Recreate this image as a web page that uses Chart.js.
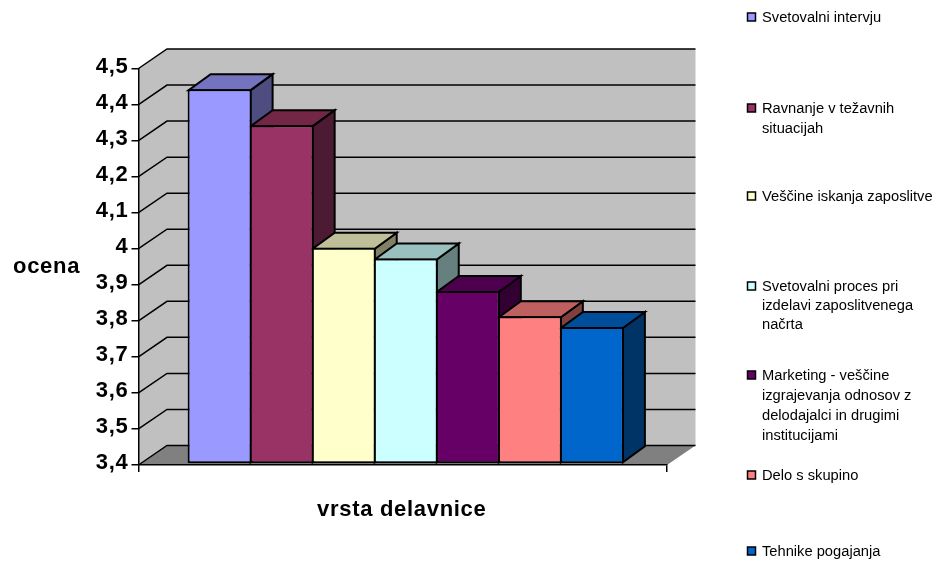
<!DOCTYPE html>
<html>
<head>
<meta charset="utf-8">
<title>Ocena delavnic</title>
<script src="https://cdn.jsdelivr.net/npm/chart.js@4"></script>
<style>
  html, body { margin: 0; padding: 0; background: #fff; }
  canvas { display: block; }
</style>
</head>
<body>
<canvas id="myChart" width="939" height="563"></canvas>
<script>
var seriesNames = [
  ["Svetovalni intervju"],
  ["Ravnanje v težavnih", "situacijah"],
  ["Veščine iskanja zaposlitve"],
  ["Svetovalni proces pri", "izdelavi zaposlitvenega", "načrta"],
  ["Marketing - veščine", "izgrajevanja odnosov z", "delodajalci in drugimi", "institucijami"],
  ["Delo s skupino"],
  ["Tehnike pogajanja"]
];
var seriesValues = [4.44, 4.34, 4.0, 3.97, 3.88, 3.81, 3.78];
var seriesColors = ["#9999FF", "#993366", "#FFFFCC", "#CCFFFF", "#660066", "#FF8080", "#0066CC"];
var topColors = ["#7373BF", "#732645", "#BFBF99", "#99BFBF", "#4D004D", "#BF6060", "#004D99"];
var sideColors = ["#4D4D80", "#4D1A33", "#808066", "#668080", "#330033", "#804040", "#003366"];
var yTicks = [3.4, 3.5, 3.6, 3.7, 3.8, 3.9, 4, 4.1, 4.2, 4.3, 4.4, 4.5];
var yTitle = "ocena";
var xTitle = "vrsta delavnice";

var FONT = '"Liberation Sans", Arial, sans-serif';
var legendTop = [18, 109, 197, 287, 376, 476, 552];
var legendGap = [0, 19.5, 0, 19, 20, 0, 0];

// depth of the box and of each bar
var WALL_DX = 28.5, WALL_DY = -19.5;
var BAR_DX = 22, BAR_DY = -16;
var BAR_SHIFT_X = 3, BAR_SHIFT_Y = -1;

function poly(ctx, pts, fill) {
  ctx.beginPath();
  ctx.moveTo(pts[0][0], pts[0][1]);
  for (var i = 1; i < pts.length; i++) ctx.lineTo(pts[i][0], pts[i][1]);
  ctx.closePath();
  ctx.fillStyle = fill;
  ctx.fill();
}

var box3d = {
  id: "box3d",
  beforeDraw: function (chart) {
    var ctx = chart.ctx, area = chart.chartArea, y = chart.scales.y;
    var l = area.left, r = area.right, t = area.top, b = area.bottom;
    var dx = WALL_DX, dy = WALL_DY;

    // bold labels are spaced a little wider, also picked up by the tick labels
    ctx.letterSpacing = "0.7px";

    // walls and floor
    ctx.save();
    poly(ctx, [[l, t], [l + dx, t + dy], [r + dx, t + dy], [r + dx, b + dy], [l + dx, b + dy], [l, b]], "#C0C0C0");
    poly(ctx, [[l, b], [l + dx, b + dy], [r + dx, b + dy], [r, b]], "#808080");

    // gridlines run up the side wall then along the back
    ctx.strokeStyle = "#000";
    ctx.lineWidth = 1.5;
    yTicks.forEach(function (v) {
      var p = y.getPixelForValue(v);
      ctx.beginPath();
      ctx.moveTo(l, p);
      ctx.lineTo(l + dx, p + dy);
      ctx.lineTo(r + dx, p + dy);
      ctx.stroke();
    });
    ctx.restore();
  },
  beforeDatasetsDraw: function (chart) {
    var ctx = chart.ctx;

    // top and side faces of the bars, the library paints the fronts after this
    ctx.save();
    ctx.strokeStyle = "#000";
    ctx.lineWidth = 2;
    ctx.lineJoin = "miter";
    seriesValues.forEach(function (v, i) {
      var el = chart.getDatasetMeta(i).data[0];
      var x1 = el.x - el.width / 2 + 1 + BAR_SHIFT_X;
      var x2 = el.x + el.width / 2 - 1 + BAR_SHIFT_X;
      var yT = el.y + 1 + BAR_SHIFT_Y;
      var yB = el.base - 1 + BAR_SHIFT_Y;
      var topFace = [[x1, yT], [x2, yT], [x2 + BAR_DX, yT + BAR_DY], [x1 + BAR_DX, yT + BAR_DY]];
      var sideFace = [[x2, yT], [x2 + BAR_DX, yT + BAR_DY], [x2 + BAR_DX, yB + BAR_DY], [x2, yB]];
      poly(ctx, sideFace, sideColors[i]);
      ctx.stroke();
      poly(ctx, topFace, topColors[i]);
      ctx.stroke();
    });
    ctx.restore();

    ctx.save();
    ctx.translate(BAR_SHIFT_X, BAR_SHIFT_Y);
  },
  afterDatasetsDraw: function (chart) {
    var ctx = chart.ctx;
    ctx.restore();

    // axis titles
    ctx.save();
    ctx.fillStyle = "#000";
    ctx.textBaseline = "alphabetic";
    ctx.font = "bold 22px " + FONT;
    ctx.textAlign = "left";
    ctx.fillText(yTitle, 13, 273);
    ctx.fillText(xTitle, 317, 516);

    // legend
    ctx.letterSpacing = "0px";
    ctx.textBaseline = "middle";
    ctx.font = "14.7px " + FONT;
    seriesNames.forEach(function (lines, i) {
      var top = legendTop[i];
      ctx.fillStyle = seriesColors[i];
      ctx.fillRect(747.5, top - 5, 8, 8);
      ctx.strokeStyle = "#000";
      ctx.lineWidth = 1.5;
      ctx.strokeRect(747.5, top - 5, 8, 8);
      ctx.fillStyle = "#000";
      lines.forEach(function (line, n) {
        ctx.fillText(line, 762, top + n * legendGap[i]);
      });
    });
    ctx.restore();
  }
};

var datasets = seriesValues.map(function (v, i) {
  return {
    label: seriesNames[i].join(" "),
    data: [v],
    base: yTicks[0],
    backgroundColor: seriesColors[i],
    borderColor: "#000",
    borderWidth: 2,
    borderSkipped: false,
    categoryPercentage: 0.8218,
    barPercentage: 1.0314,
    clip: false
  };
});

new Chart(document.getElementById("myChart"), {
  type: "bar",
  data: { labels: [""], datasets: datasets },
  plugins: [box3d],
  options: {
    responsive: false,
    animation: false,
    layout: { padding: { top: 68.5, right: 272, left: 0, bottom: 0 } },
    plugins: { legend: { display: false }, tooltip: { enabled: false } },
    scales: {
      x: {
        afterFit: function (scale) { scale.height = 98; },
        ticks: { display: false },
        grid: { drawOnChartArea: false, drawTicks: true, tickLength: 7, color: "#000", lineWidth: 1.5 },
        border: { color: "#000", width: 1.5 }
      },
      y: {
        min: 3.4,
        max: 4.5,
        afterBuildTicks: function (scale) {
          scale.ticks = yTicks.map(function (v) { return { value: v }; });
        },
        afterFit: function (scale) { scale.width = 138.5; },
        ticks: {
          color: "#000",
          padding: 3,
          // the empty second line lifts each label 2px above its tick
          font: { family: FONT, size: 22, weight: "bold", lineHeight: "4px" },
          callback: function (v) { return [String(v).replace(".", ","), ""]; }
        },
        grid: { drawOnChartArea: false, drawTicks: true, tickLength: 7, color: "#000", lineWidth: 1.5 },
        border: { color: "#000", width: 1.5 }
      }
    }
  }
});
</script>
</body>
</html>
